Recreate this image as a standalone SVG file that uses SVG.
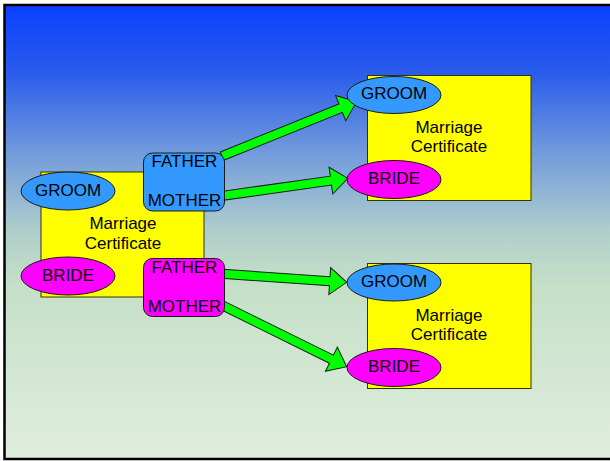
<svg xmlns="http://www.w3.org/2000/svg" width="610" height="461" viewBox="0 0 610 461">
<defs>
<linearGradient id="bg" x1="0" y1="0" x2="0" y2="1">
<stop offset="0" stop-color="#0a40ff"/>
<stop offset="0.15" stop-color="#2a5cec"/>
<stop offset="0.32" stop-color="#7099dc"/>
<stop offset="0.5" stop-color="#b0cfcc"/>
<stop offset="0.62" stop-color="#c5e0c7"/>
<stop offset="1" stop-color="#e0eddf"/>
</linearGradient>
<style>
.cert{fill:#ffff00;stroke:#333300;stroke-width:1}
.groom{fill:#3399ff;stroke:#1a1a1a;stroke-width:1}
.bride{fill:#ff00ff;stroke:#1a1a1a;stroke-width:1}
.par{stroke:#1a1a1a;stroke-width:1}
.arrow{fill:#00ff00;stroke:#1a1a1a;stroke-width:1;stroke-linejoin:miter}
text{font-family:"Liberation Sans",Arial,sans-serif;font-size:17px;fill:#000;text-anchor:middle}
</style>
</defs>
<rect x="4.5" y="5" width="700" height="454" fill="url(#bg)" stroke="#000" stroke-width="2.5"/>
<g id="connectors">
<polygon class="arrow" transform="translate(222,156.1) rotate(-22)" points="0,-4.5 128,-4.5 128,-13.5 145.3,0 128,13.5 128,4.5 0,4.5"/>
<polygon class="arrow" transform="translate(222,195.9) rotate(-7.97)" points="0,-4.5 110,-4.5 110,-13.5 126.9,0 110,13.5 110,4.5 0,4.5"/>
<polygon class="arrow" transform="translate(222,273.8) rotate(3.9)" points="0,-4.5 108,-4.5 108,-13.5 125,0 108,13.5 108,4.5 0,4.5"/>
<polygon class="arrow" transform="translate(222,305.2) rotate(26.25)" points="0,-4.5 122,-4.5 122,-13.5 139,0 122,13.5 122,4.5 0,4.5"/>
</g>
<g id="cert-left">
<rect class="cert" x="41" y="172" width="163" height="125"/>
<text x="123" y="229">Marriage</text>
<text x="123" y="249">Certificate</text>
</g>
<g id="groom-left">
<ellipse class="groom" cx="68" cy="191" rx="47" ry="19"/>
<text x="68" y="196">GROOM</text>
</g>
<g id="bride-left">
<ellipse class="bride" cx="68" cy="276" rx="47" ry="19"/>
<text x="68" y="281">BRIDE</text>
</g>
<g id="parents-groom">
<rect class="par" x="143.5" y="153" width="81" height="58" rx="9" fill="#3399ff"/>
<text x="184.5" y="167">FATHER</text>
<text x="184.5" y="206">MOTHER</text>
</g>
<g id="parents-bride">
<rect class="par" x="143.5" y="258.5" width="81" height="58" rx="9" fill="#ff00ff"/>
<text x="184.5" y="273">FATHER</text>
<text x="184.5" y="312">MOTHER</text>
</g>
<g id="cert-top">
<rect class="cert" x="367.5" y="75.5" width="163.5" height="125"/>
<text x="449" y="133">Marriage</text>
<text x="449" y="152">Certificate</text>
</g>
<g id="groom-top">
<ellipse class="groom" cx="394" cy="95" rx="47" ry="18.5"/>
<text x="394" y="99">GROOM</text>
</g>
<g id="bride-top">
<ellipse class="bride" cx="394" cy="179.5" rx="47" ry="19"/>
<text x="394" y="184">BRIDE</text>
</g>
<g id="cert-bottom">
<rect class="cert" x="367.5" y="263.5" width="163.5" height="125"/>
<text x="449" y="321">Marriage</text>
<text x="449" y="340">Certificate</text>
</g>
<g id="groom-bottom">
<ellipse class="groom" cx="394" cy="282.5" rx="47" ry="18.5"/>
<text x="394" y="287">GROOM</text>
</g>
<g id="bride-bottom">
<ellipse class="bride" cx="394" cy="367.5" rx="47" ry="19"/>
<text x="394" y="372">BRIDE</text>
</g>
</svg>
